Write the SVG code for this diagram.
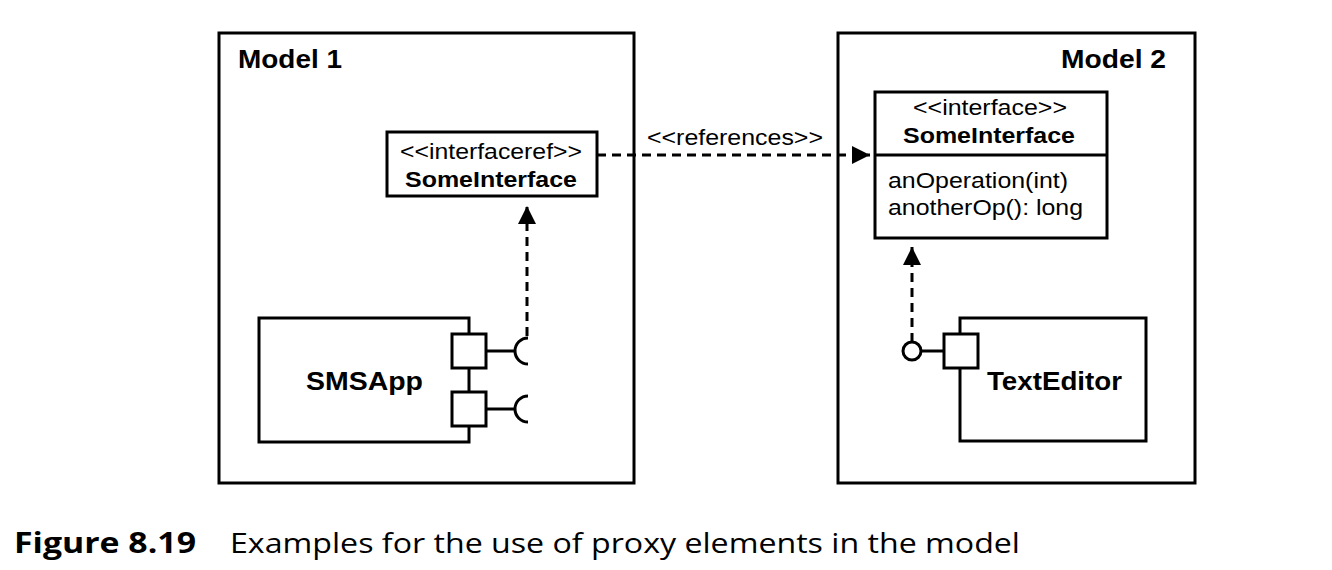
<svg xmlns="http://www.w3.org/2000/svg" width="1332" height="570" viewBox="0 0 1332 570">
<style>
.frame{fill:none;stroke:#000;stroke-width:3}
.box{fill:#fff;stroke:#000;stroke-width:3}
.ln{fill:none;stroke:#000;stroke-width:3}
.dash{fill:none;stroke:#000;stroke-width:3;stroke-dasharray:9,6}
.t{font-family:"Liberation Sans",Arial,sans-serif;fill:#000}
.b{font-weight:bold}
.cap{font-family:"Open Sans",sans-serif;fill:#000}
</style>
<defs>
<marker id="ah" viewBox="0 0 12 12" refX="12" refY="6" markerWidth="6" markerHeight="6" markerUnits="strokeWidth" orient="auto">
<path d="M0,0 L12,6 L0,12 Z" fill="#000"/>
</marker>
</defs>
<rect width="1332" height="570" fill="#fff"/>
<g id="model1">
<rect class="frame" x="219" y="33" width="415" height="450"/>
<text class="t b" x="238" y="68" font-size="26" textLength="104" lengthAdjust="spacingAndGlyphs">Model 1</text>
</g>
<g id="model2">
<rect class="frame" x="838" y="33" width="357" height="450"/>
<text class="t b" x="1061" y="68" font-size="26" textLength="105" lengthAdjust="spacingAndGlyphs">Model 2</text>
</g>
<g id="connectors">
<line class="dash" x1="597" y1="155" x2="870" y2="155" marker-end="url(#ah)"/>
<text class="t" x="647" y="145" font-size="22" textLength="176" lengthAdjust="spacingAndGlyphs">&lt;&lt;references&gt;&gt;</text>
<line class="dash" x1="527" y1="336" x2="527" y2="206" marker-end="url(#ah)"/>
<line class="dash" x1="912" y1="342" x2="912" y2="247" marker-end="url(#ah)"/>
</g>
<g id="interfaceref">
<rect class="box" x="387" y="132" width="210" height="64"/>
<text class="t" x="400" y="159" font-size="22" textLength="182" lengthAdjust="spacingAndGlyphs">&lt;&lt;interfaceref&gt;&gt;</text>
<text class="t b" x="405" y="187" font-size="22" textLength="172" lengthAdjust="spacingAndGlyphs">SomeInterface</text>
</g>
<g id="interface">
<rect class="box" x="875" y="92" width="232" height="146"/>
<line class="ln" x1="875" y1="155" x2="1107" y2="155"/>
<text class="t" x="913" y="115" font-size="22" textLength="154" lengthAdjust="spacingAndGlyphs">&lt;&lt;interface&gt;&gt;</text>
<text class="t b" x="903" y="143" font-size="22" textLength="172" lengthAdjust="spacingAndGlyphs">SomeInterface</text>
<text class="t" x="888" y="188" font-size="22" textLength="180" lengthAdjust="spacingAndGlyphs">anOperation(int)</text>
<text class="t" x="888" y="215" font-size="22" textLength="195" lengthAdjust="spacingAndGlyphs">anotherOp(): long</text>
</g>
<g id="smsapp">
<rect class="box" x="259" y="318" width="210" height="124"/>
<text class="t b" x="306" y="390" font-size="26" textLength="117" lengthAdjust="spacingAndGlyphs">SMSApp</text>
<rect class="box" x="452" y="334" width="34" height="34"/>
<rect class="box" x="452" y="392" width="34" height="34"/>
<line class="ln" x1="486" y1="351" x2="514" y2="351"/>
<line class="ln" x1="486" y1="409" x2="514" y2="409"/>
<path class="ln" d="M528,338 A13,13 0 0 0 528,364"/>
<path class="ln" d="M528,396 A13,13 0 0 0 528,422"/>
</g>
<g id="texteditor">
<rect class="box" x="960" y="318" width="186" height="123"/>
<text class="t b" x="987" y="390" font-size="26" textLength="135" lengthAdjust="spacingAndGlyphs">TextEditor</text>
<rect class="box" x="944" y="334" width="34" height="34"/>
<line class="ln" x1="921" y1="351" x2="944" y2="351"/>
<circle class="box" cx="912" cy="351" r="9"/>
</g>
<g id="caption">
<text class="cap" x="14" y="553" font-size="28" font-weight="bold" textLength="182" lengthAdjust="spacingAndGlyphs">Figure 8.19</text>
<text class="cap" x="230" y="553" font-size="28" textLength="790" lengthAdjust="spacingAndGlyphs">Examples for the use of proxy elements in the model</text>
</g>
</svg>
